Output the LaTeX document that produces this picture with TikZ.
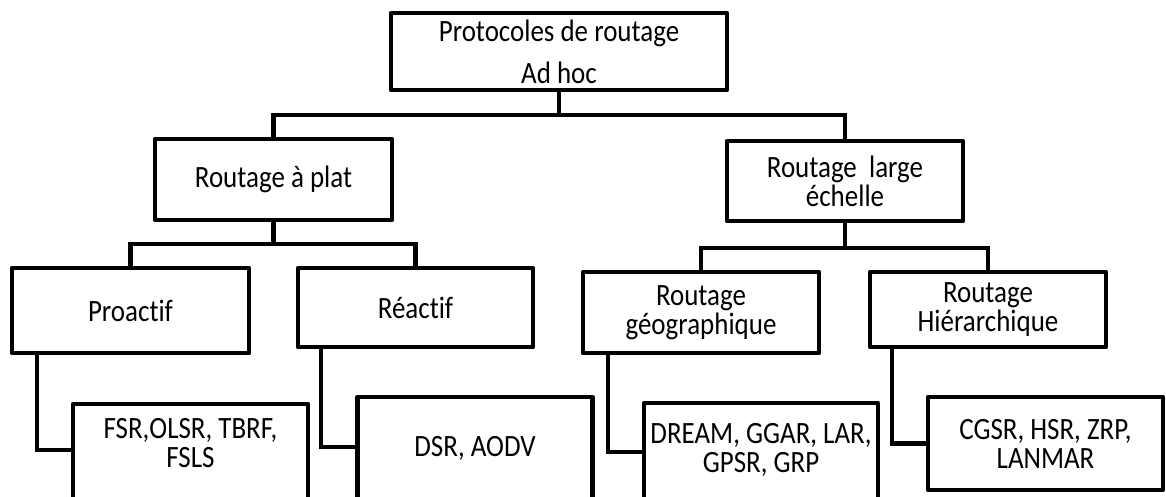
\documentclass[tikz,border=0pt]{standalone}
\usepackage{fontspec}
\setmainfont[Ligatures=NoCommon, FakeStretch=0.87]{Carlito}
\usetikzlibrary{}

\begin{document}
\begin{tikzpicture}[x=1pt, y=-1pt,
    box/.style={draw, line width=4.5pt, line join=round, outer sep=0pt, align=center, font=\fontsize{31}{29}\selectfont},
    leaf/.style={box, anchor=north, minimum width=235pt, text depth=120pt},
    link/.style={line width=4.5pt}]

    % Frame
    \useasboundingbox (0,0) rectangle (1166,497);
    \clip (0,0) rectangle (1166,497);

    % Root
    \node[box, minimum width=336pt, minimum height=77pt] (root) at (559,51.5) {Protocoles de routage\\[13pt]Ad hoc};

    % First level
    \node[box, minimum width=237pt, minimum height=81pt] (plat) at (273.5,179.5) {Routage à plat};
    \node[box, minimum width=236pt, minimum height=80pt] (large) at (845,181) {Routage~ large\\échelle};

    % Second level
    \node[box, minimum width=237pt, minimum height=85pt] (proactif) at (130.5,310.5) {Proactif};
    \node[box, minimum width=235pt, minimum height=79pt] (reactif) at (415.5,307.5) {Réactif};
    \node[box, minimum width=236pt, minimum height=81pt] (geo) at (701,312.5) {Routage\\géographique};
    \node[box, minimum width=236pt, minimum height=75pt] (hier) at (988,309.5) {Routage\\Hiérarchique};

    % Protocols
    \node[leaf, inner ysep=14pt] (fsr) at (190.5,404) {FSR,OLSR, TBRF,\\FSLS};
    \node[leaf, inner ysep=39pt] (dsr) at (475,397) {DSR, AODV};
    \node[leaf, inner ysep=20pt, minimum width=234pt] (dream) at (761,403) {DREAM, GGAR, LAR,\\GPSR, GRP};
    \node[box, minimum width=235pt, minimum height=93pt] (cgsr) at (1045.5,443.5) {CGSR, HSR, ZRP,\\LANMAR};

    % Links
    \coordinate (b0) at (559,115);
    \coordinate (b1) at (273.5,244);
    \coordinate (b2) at (845,248);
    \draw[link] (root) -- (b0);
    \draw[link] (plat.north) |- (b0) -| (large.north);
    \draw[link] (plat) -- (b1);
    \draw[link] (proactif.north) |- (b1) -| (reactif.north);
    \draw[link] (large) -- (b2);
    \draw[link] (geo.north) |- (b2) -| (hier.north);

    \draw[link] ([xshift=25pt]proactif.south west) |- ([yshift=-46pt]fsr.north west);
    \draw[link] ([xshift=23pt]reactif.south west) |- ([yshift=-50pt]dsr.north west);
    \draw[link] ([xshift=25pt]geo.south west) |- ([yshift=-49pt]dream.north west);
    \draw[link] ([xshift=22pt]hier.south west) |- (cgsr.west);

\end{tikzpicture}
\end{document}
